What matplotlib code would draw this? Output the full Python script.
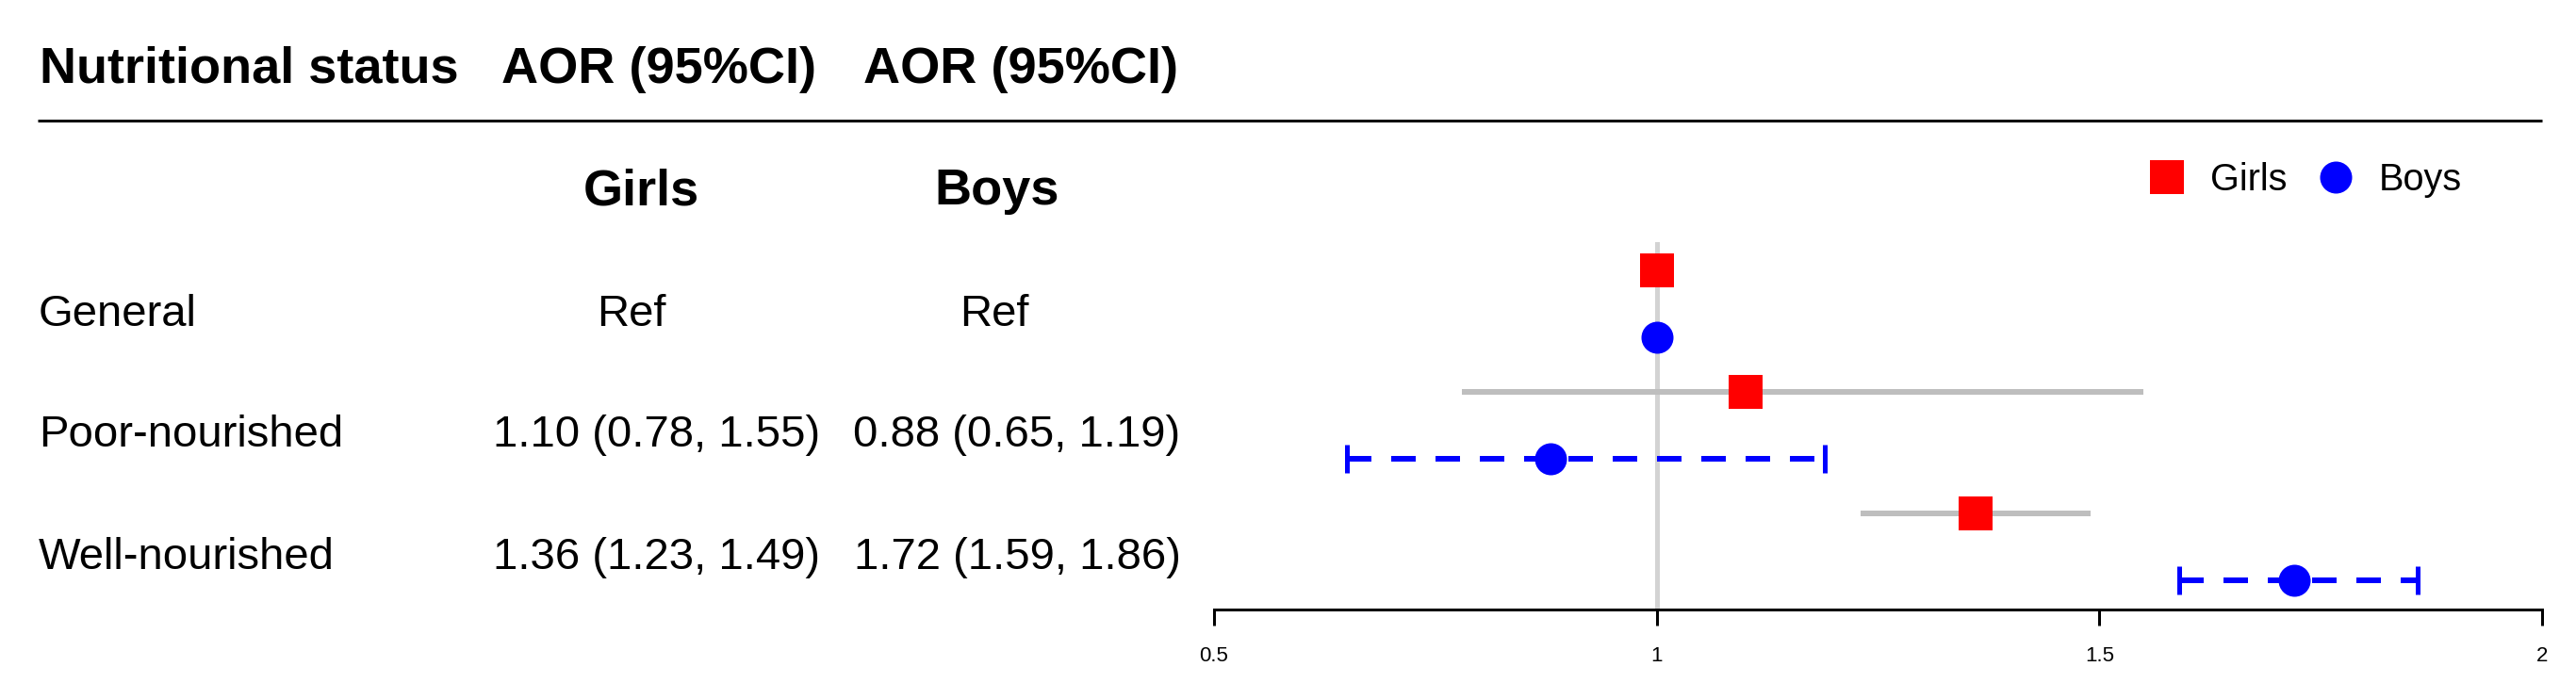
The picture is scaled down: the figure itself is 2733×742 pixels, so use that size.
import numpy as np
import matplotlib
matplotlib.use('Agg')
import matplotlib.pyplot as plt

# ---------------- data ----------------
categories = ['General', 'Poor-nourished', 'Well-nourished']
girls_aor = [1.00, 1.10, 1.36]
girls_lo = [np.nan, 0.78, 1.23]
girls_hi = [np.nan, 1.55, 1.49]
boys_aor = [1.00, 0.88, 1.72]
boys_lo = [np.nan, 0.65, 1.59]
boys_hi = [np.nan, 1.19, 1.86]
is_ref = [True, False, False]
xticks = [0.5, 1, 1.5, 2]
xtick_labels = ['0.5', '1', '1.5', '2']
header_cols = ['Nutritional status', 'AOR (95%CI)', 'AOR (95%CI)']
group_labels = ['Girls', 'Boys']

# ---------------- layout ----------------
plt.rcParams['font.family'] = ['Liberation Sans', 'DejaVu Sans']
W, H, DPI = 2733, 742, 100
PT = 0.72  # points per pixel at 100 dpi
ROW0, STEP = 322.5, 129.0   # pixel centre of first row, row spacing
OFF = 0.275                 # girls above / boys below row centre (row units)

fig = plt.figure(figsize=(W / DPI, H / DPI), dpi=DPI)
fig.patch.set_facecolor('white')

# overlay axes in pixel coordinates for the table part
ax0 = fig.add_axes([0, 0, 1, 1])
ax0.set_xlim(0, W)
ax0.set_ylim(H, 0)
ax0.axis('off')

BOLD = 39
REG = 34

ax0.text(42, 88, header_cols[0], fontsize=BOLD, fontweight='bold', ha='left', va='baseline')
ax0.text(699, 88, header_cols[1], fontsize=BOLD, fontweight='bold', ha='center', va='baseline')
ax0.text(1083, 88, header_cols[2], fontsize=BOLD, fontweight='bold', ha='center', va='baseline')
ax0.plot([40, 2697], [127.5, 127.5], color='black', lw=3 * PT, solid_capstyle='butt')

ax0.text(680, 217, group_labels[0], fontsize=BOLD, fontweight='bold', ha='center', va='baseline')
ax0.text(1058, 217, group_labels[1], fontsize=BOLD, fontweight='bold', ha='center', va='baseline')


def fmt(v, lo, hi, ref):
    return 'Ref' if ref else f'{v:.2f} ({lo:.2f}, {hi:.2f})'


for i, cat in enumerate(categories):
    base = ROW0 + STEP * i + 23
    ax0.text(41, base, cat, fontsize=REG, ha='left', va='baseline')
    gx = 670 if is_ref[i] else 697
    bx = 1055 if is_ref[i] else 1079
    ax0.text(gx, base, fmt(girls_aor[i], girls_lo[i], girls_hi[i], is_ref[i]),
             fontsize=REG, ha='center', va='baseline')
    ax0.text(bx, base, fmt(boys_aor[i], boys_lo[i], boys_hi[i], is_ref[i]),
             fontsize=REG, ha='center', va='baseline')

# ---------------- forest axes ----------------
x_left, x_right = 1288, 2697
y_top, y_axis = 257, 647
ax = fig.add_axes([x_left / W, (H - y_axis) / H, (x_right - x_left) / W, (y_axis - y_top) / H])
ax.patch.set_alpha(0)
ax.set_xlim(0.5, 2.0)
ax.set_ylim((y_axis - ROW0) / STEP, (y_top - ROW0) / STEP)
for s in ['top', 'left', 'right']:
    ax.spines[s].set_visible(False)
ax.spines['bottom'].set_linewidth(3 * PT)
ax.spines['bottom'].set_color('black')
ax.set_yticks([])
ax.set_xticks(xticks)
ax.set_xticklabels(xtick_labels, fontsize=16)
ax.tick_params(axis='x', length=17 * PT, width=3 * PT, pad=16, color='black')

ax.axvline(1.0, color='#D3D3D3', lw=5 * PT, zorder=1)

rows = np.arange(len(categories))
yg = rows - OFF
yb = rows + OFF

# girls CI (solid grey, no caps)
for y, lo, hi in zip(yg, girls_lo, girls_hi):
    if not np.isnan(lo):
        ax.hlines(y, lo, hi, color='#BEBEBE', lw=6 * PT, zorder=2)
hg, = ax.plot(girls_aor, yg, ls='none', marker='s', ms=36 * PT, mfc='#FF0000', mec='#FF0000',
              mew=0, zorder=4, label=group_labels[0])

# boys CI (dashed blue with caps)
lw_b = 6 * PT
for y, lo, hi in zip(yb, boys_lo, boys_hi):
    if not np.isnan(lo):
        ax.plot([lo, hi], [y, y], color='#0000FF', lw=lw_b,
                linestyle=(0, (26 * PT / lw_b, 21 * PT / lw_b)), dash_capstyle='butt', zorder=3)
        ax.vlines([lo, hi], y - 15 / STEP, y + 15 / STEP, color='#0000FF', lw=5 * PT, zorder=3)
hb, = ax.plot(boys_aor, yb, ls='none', marker='o', ms=34 * PT, mfc='#0000FF', mec='#0000FF',
              mew=0, zorder=4, label=group_labels[1])

ax.legend(handles=[hg, hb], loc='center left', bbox_to_anchor=(2281 / W, 1 - 191 / H),
          bbox_transform=fig.transFigure, ncol=2, frameon=False, fontsize=28.5,
          handlelength=0.9, handletextpad=0.72, columnspacing=0.84, borderpad=0,
          borderaxespad=0, numpoints=1)

fig.savefig('out.png', dpi=DPI, facecolor='white')
